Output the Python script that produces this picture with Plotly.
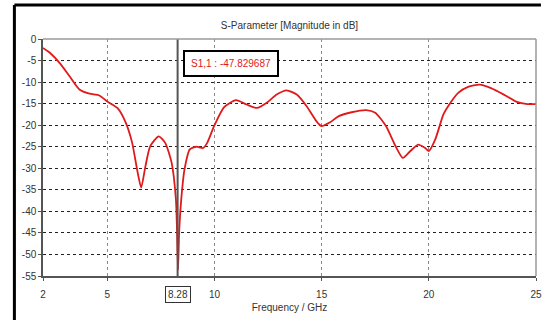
import plotly.graph_objects as go

freq_ghz = [2.0, 2.32, 2.78, 3.25, 3.7, 4.17, 4.63, 5.0, 5.47, 5.85, 6.16, 6.39, 6.58, 6.78, 7.0,
            7.4, 7.7, 8.0, 8.2, 8.25, 8.3, 8.35, 8.45, 8.6, 8.85, 9.15, 9.47, 9.66, 10.0, 10.45,
            11.0, 11.5, 11.98, 12.44, 12.9, 13.36, 13.84, 14.3, 14.76, 15.0, 15.4, 15.8, 16.4,
            17.07, 17.5, 18.0, 18.45, 18.79, 19.14, 19.5, 19.83, 20.0, 20.3, 20.68, 20.9, 21.37,
            21.83, 22.37, 22.9, 23.5, 24.1, 24.6, 25.0]
s11_db = [-2.1, -3.2, -5.6, -8.7, -11.7, -12.7, -13.1, -14.5, -16.0, -19.3, -24.1, -30.3, -34.5,
          -29.5, -24.9, -22.6, -24.1, -28.7, -37.2, -44.0, -53.5, -45.0, -37.2, -30.3, -25.6,
          -25.0, -25.3, -24.1, -20.0, -15.8, -14.2, -15.2, -16.0, -14.8, -12.9, -11.9, -12.9,
          -15.6, -19.1, -20.2, -19.3, -17.9, -17.0, -16.5, -17.1, -20.2, -24.9, -27.6, -26.0,
          -24.5, -25.3, -26.0, -23.3, -17.5, -15.6, -12.5, -11.1, -10.6, -11.4, -12.9, -14.6,
          -15.1, -15.1]

x_ticks = [2, 5, 10, 15, 20, 25]
y_ticks = [0, -5, -10, -15, -20, -25, -30, -35, -40, -45, -50, -55]
y_ticktext = ["0", "-5", "-10", "-15", "-20", "-25", "-30", "-35", "-40", "-45", "-50", "-55"]
marker_freq = 8.28
marker_label = "S1,1 : -47.829687"

FONT = "Liberation Sans Narrow, Liberation Sans, Arial, sans-serif"
TXT = "#333333"

fig = go.Figure()
fig.add_trace(go.Scatter(x=freq_ghz, y=s11_db, mode="lines",
                         line=dict(color="#e0191b", width=1.8, shape="spline", smoothing=0.6),
                         hoverinfo="skip", showlegend=False))

# marker line
fig.add_shape(type="line", xref="x", yref="y", x0=marker_freq, x1=marker_freq, y0=-55, y1=0,
              line=dict(color="#555555", width=2))

# light top/right plot borders
fig.add_shape(type="line", xref="paper", yref="paper", x0=0, x1=1, y0=1, y1=1,
              line=dict(color="#9a9a9a", width=1.5))
fig.add_shape(type="line", xref="paper", yref="paper", x0=1, x1=1, y0=0, y1=1,
              line=dict(color="#9a9a9a", width=1.5))

# outer frame
fig.add_shape(type="line", xref="paper", yref="paper", x0=-0.058, x1=-0.058, y0=-0.3, y1=1.143,
              line=dict(color="black", width=3))
fig.add_shape(type="line", xref="paper", yref="paper", x0=-0.058, x1=1.01, y0=1.143, y1=1.143,
              line=dict(color="black", width=3))

fig.add_annotation(x=8.54, y=-5.6, xref="x", yref="y", xanchor="left", yanchor="middle",
                   text=marker_label, showarrow=False, borderpad=6,
                   font=dict(family=FONT, size=10, color="#e0191b"),
                   bordercolor="black", borderwidth=2, bgcolor="white")
fig.add_annotation(x=marker_freq, y=-0.08, xref="x", yref="paper", xanchor="center",
                   yanchor="middle", text=str(marker_freq), showarrow=False,
                   font=dict(family=FONT, size=10, color=TXT),
                   bordercolor="#333333", borderwidth=1, borderpad=2, bgcolor="white")

fig.update_layout(
    width=550, height=320,
    margin=dict(l=43, r=8, t=39, b=43),
    paper_bgcolor="white", plot_bgcolor="white",
    font=dict(family=FONT, size=10, color=TXT),
    title=dict(text="S-Parameter [Magnitude in dB]", xref="paper", x=0.5, xanchor="center",
               y=1 - 25 / 320, yanchor="middle", font=dict(family=FONT, size=10, color=TXT)),
)
fig.update_xaxes(range=[2, 25], tickvals=x_ticks, showgrid=True, gridcolor="#8a8a8a",
                 griddash="dot", gridwidth=1, showline=True, linecolor="#555555", linewidth=1.5,
                 ticks="outside", ticklen=3, tickcolor="#555555",
                 zeroline=False, ticklabelstandoff=5,
                 title=dict(text="Frequency / GHz", standoff=5,
                            font=dict(family=FONT, size=10, color=TXT)))
fig.update_yaxes(range=[-55, 0], tickvals=y_ticks, ticktext=y_ticktext, showgrid=True,
                 gridcolor="#222222", griddash="dot", gridwidth=1, showline=True,
                 linecolor="#555555", linewidth=1.5, ticks="outside", ticklen=3,
                 tickcolor="#555555", zeroline=False)

fig.write_html("out.html", config={"displayModeBar": False},
               post_script="document.body.style.margin='0';")
